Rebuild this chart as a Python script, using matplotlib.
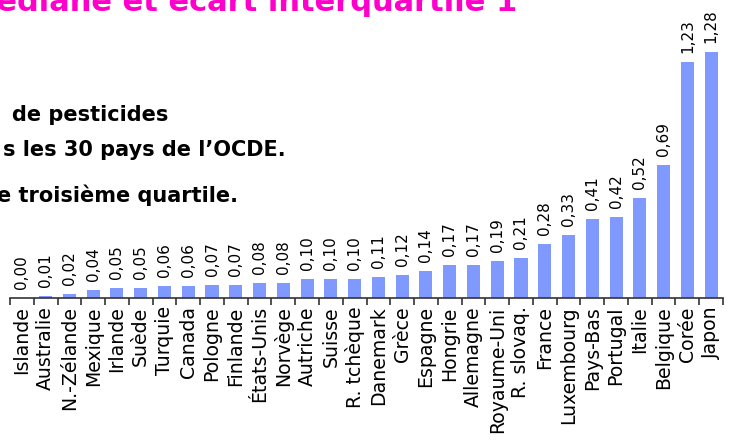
import numpy as np
from matplotlib import pyplot as plt

countries = ['Islande', 'Australie', 'N.-Zélande', 'Mexique', 'Irlande', 'Suède',
             'Turquie', 'Canada', 'Pologne', 'Finlande', 'États-Unis', 'Norvège',
             'Autriche', 'Suisse', 'R. tchèque', 'Danemark', 'Grèce', 'Espagne',
             'Hongrie', 'Allemagne', 'Royaume-Uni', 'R. slovaq.', 'France',
             'Luxembourg', 'Pays-Bas', 'Portugal', 'Italie', 'Belgique', 'Corée', 'Japon']
values = [0.00, 0.01, 0.02, 0.04, 0.05, 0.05, 0.06, 0.06, 0.07, 0.07, 0.08, 0.08,
          0.10, 0.10, 0.10, 0.11, 0.12, 0.14, 0.17, 0.17, 0.19, 0.21, 0.28, 0.33,
          0.41, 0.42, 0.52, 0.69, 1.23, 1.28]

title = 'Médiane et écart interquartile 1'
notes = ['de pesticides', 's les 30 pays de l’OCDE.', 'e troisième quartile.']

W, H = 730, 445
fig = plt.figure(figsize=(W / 100, H / 100), dpi=100)
# axes: baseline at y=298 px, bars from x=10 to 723 px
ax = fig.add_axes([10 / W, 1 - 298 / H, 713 / W, 298 / H])

x = np.arange(len(values))
ax.bar(x, values, width=0.55, color='#7f99ff')
ax.set_xlim(-0.5, len(values) - 0.5)
ax.set_ylim(0, 298 / 192.2)

for xi, v in zip(x, values):
    ax.annotate(f'{v:.2f}'.replace('.', ','), (xi, v), xytext=(0, 6.5),
                textcoords='offset points', rotation=90, ha='center', va='bottom',
                fontsize=11, color='black')

ax.set_xticks(x)
ax.set_xticklabels(countries, rotation=90, fontsize=13.6, va='top', ha='center')
ax.tick_params(axis='x', which='major', length=0, pad=6)
ax.set_xticks(np.arange(-0.5, len(values), 1), minor=True)
ax.tick_params(axis='x', which='minor', length=5, width=1.2, color='#333333')
ax.set_yticks([])
for s in ['left', 'right', 'top']:
    ax.spines[s].set_visible(False)
ax.spines['bottom'].set_color('#333333')
ax.spines['bottom'].set_linewidth(1.2)

fig.text(517 / W, 1 - 11 / H, title, ha='right', va='baseline',
         fontsize=22, fontweight='bold', color='#ff00cc')
for txt, xr, yb in zip(notes, [168, 286, 238], [121, 156, 202]):
    fig.text(xr / W, 1 - yb / H, txt, ha='right', va='baseline',
             fontsize=15, fontweight='bold', color='black')

fig.savefig('out.png', dpi=100)
